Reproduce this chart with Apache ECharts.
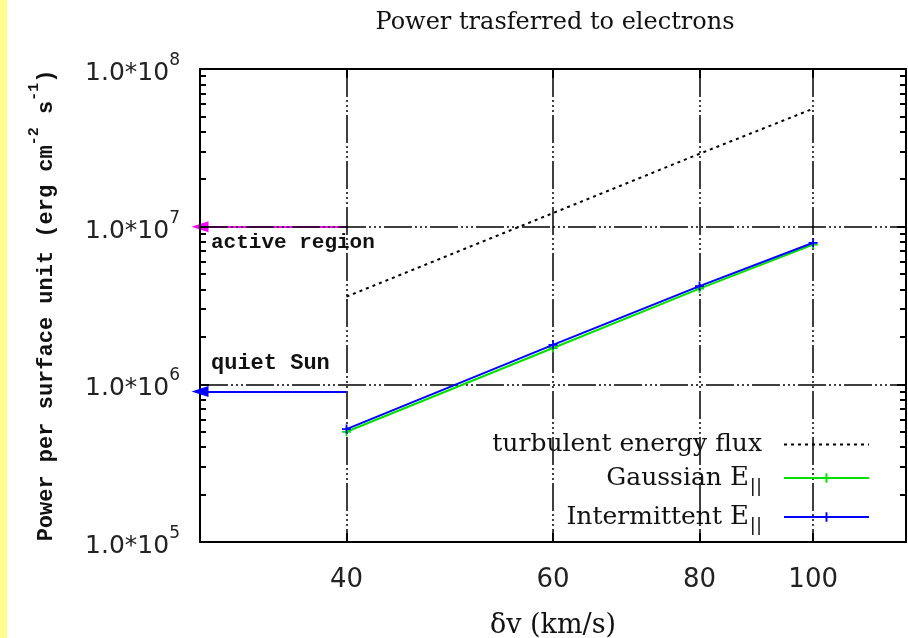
<!DOCTYPE html>
<html><head><meta charset="utf-8">
<script src="https://cdn.jsdelivr.net/npm/echarts@6/dist/echarts.min.js"></script>
<style>html,body{margin:0;padding:0;background:#fff}#c{width:908px;height:638px}</style>
</head><body><div id="c"></div>
<script>
// ---- data ----
const speeds = [40, 60, 80, 100];                       // δv (km/s)
const turbulentFlux = [3.6e6, 1.22e7, 2.9e7, 5.6e7];    // turbulent energy flux
const gaussianE = [5.0e5, 1.70e6, 4.05e6, 7.7e6];       // Gaussian E||
const intermittentE = [5.2e5, 1.78e6, 4.2e6, 7.9e6];    // Intermittent E||
const xTickValues = [40, 60, 80, 100];
const yTickValues = [1e5, 1e6, 1e7, 1e8];
const yMinorTickValues = [2e5,3e5,4e5,5e5,6e5,7e5,8e5,9e5,
                          2e6,3e6,4e6,5e6,6e6,7e6,8e6,9e6,
                          2e7,3e7,4e7,5e7,6e7,7e7,8e7,9e7];
const refSpanX = [30, 40];          // extent of the reference level arrows
const activeRegionLevel = 1e7;
const quietSunLevel = 9e5;
const xRange = [30, 120];
const yRange = [1e5, 1e8];

const serif = 'DejaVu Serif';
const sans = 'DejaVu Sans';
const mono = 'Liberation Mono';
const gridDash = [28, 3, 2, 3, 2, 3, 2, 3];
const plusPath = 'path://M4,0h2v4h4v2h-4v4h-2v-4h-4v-2h4z';

const zip = (xs, ys) => xs.map((x, i) => [x, ys[i]]);

const chart = echarts.init(document.getElementById('c'), null, {renderer: 'canvas'});

function xAxisBase(pos, extra) {
  return Object.assign({
    type: 'log', logBase: 10, min: xRange[0], max: xRange[1], position: pos,
    axisLine: {show: true, lineStyle: {color: '#000', width: 2}},
    axisTick: {show: true, inside: true, length: 9, customValues: xTickValues, lineStyle: {color: '#000', width: 2}},
    axisLabel: {show: false},
    splitLine: {show: false},
    minorTick: {show: false}
  }, extra || {});
}
function yAxisBase(pos, extra) {
  return Object.assign({
    type: 'log', logBase: 10, min: yRange[0], max: yRange[1], position: pos,
    axisLine: {show: false, lineStyle: {color: '#000', width: 2}},
    axisTick: {show: true, inside: true, length: 9, customValues: yTickValues, lineStyle: {color: '#000', width: 2}},
    axisLabel: {show: false},
    splitLine: {show: false}
  }, extra || {});
}

const option = {
  backgroundColor: '#fff',
  animation: false,
  title: {
    text: 'Power trasferred to electrons',
    left: 550, top: 6, textAlign: 'center',
    textStyle: {fontFamily: serif, fontSize: 24, fontWeight: 'normal', color: '#111'}
  },
  graphic: [{type: 'rect', left: 0, top: 0, shape: {width: 7, height: 638}, style: {fill: '#ffff8c'}}],
  grid: {left: 200, right: 2, top: 69, bottom: 96, containLabel: false, outerBoundsMode: 'none'},
  xAxis: [
    xAxisBase('bottom', {
      axisLabel: {show: true, customValues: xTickValues, margin: 25, color: '#222',
        fontFamily: sans, fontSize: 26, formatter: v => String(Math.round(v))},
      splitLine: {show: true, lineStyle: {color: '#000', width: 1.5, type: gridDash}},
      name: 'δv (km/s)', nameLocation: 'middle', nameGap: 70,
      nameTextStyle: {fontFamily: serif, fontSize: 27, color: '#111'}
    }),
    xAxisBase('top')
  ],
  yAxis: [
    yAxisBase('left', {
      axisLine: {show: true, lineStyle: {color: '#000', width: 2}},
      axisLabel: {show: true, customValues: yTickValues, margin: 20, color: '#222',
        formatter: v => '{b|1.0*10}{s|' + Math.round(Math.log10(v)) + '}',
        rich: {
          b: {fontFamily: sans, fontSize: 25, lineHeight: 34, verticalAlign: 'bottom', color: '#222'},
          s: {fontFamily: sans, fontSize: 17, lineHeight: 17, verticalAlign: 'top', color: '#222'}
        }},
      splitLine: {show: true, lineStyle: {color: '#000', width: 1.5, type: gridDash}},
      name: '{n|Power per surface unit (erg cm}{s|-2}{n| s}{s|-1}{n|)}',
      nameLocation: 'middle', nameGap: 143, nameRotate: 90,
      nameTextStyle: {rich: {
        n: {fontFamily: mono, fontSize: 22, fontWeight: 'bold', lineHeight: 30, verticalAlign: 'bottom', color: '#111'},
        s: {fontFamily: mono, fontSize: 15, fontWeight: 'bold', lineHeight: 15, verticalAlign: 'top', color: '#111'}
      }}
    }),
    yAxisBase('left', {axisTick: {show: true, inside: true, length: 6, customValues: yMinorTickValues, lineStyle: {color: '#000', width: 2}}}),
    yAxisBase('right', {axisLine: {show: true, lineStyle: {color: '#000', width: 2}}}),
    yAxisBase('right', {axisTick: {show: true, inside: true, length: 6, customValues: yMinorTickValues, lineStyle: {color: '#000', width: 2}}})
  ],
  legend: {
    orient: 'vertical', right: 33, top: 427, align: 'right',
    itemWidth: 85, itemHeight: 12, itemGap: 8,
    data: [{name: 'turbulent energy flux', itemStyle: {opacity: 0}}, 'Gaussian E||', 'Intermittent E||'],
    formatter: name => name.endsWith('E||') ? '{t|' + name.slice(0, -3) + '}{e|E}{u|||}' : '{t|' + name + '}',
    textStyle: {
      padding: [0, 17, 0, 0],
      rich: {
        t: {fontFamily: serif, fontSize: 25, lineHeight: 36, color: '#111'},
        e: {fontFamily: serif, fontSize: 26, lineHeight: 36, color: '#111'},
        u: {fontFamily: sans, fontSize: 18, lineHeight: 18, verticalAlign: 'bottom', color: '#111', padding: [0, 0, 0, 1]}
      }
    }
  },
  series: [
    {
      name: 'turbulent energy flux', type: 'line', data: zip(speeds, turbulentFlux),
      symbol: 'none', lineStyle: {color: '#000', width: 2, type: [3, 4]}, itemStyle: {color: '#000'}, z: 3
    },
    {
      name: 'Gaussian E||', type: 'line', data: zip(speeds, gaussianE),
      symbol: plusPath, symbolSize: 9, lineStyle: {color: '#00e000', width: 2}, itemStyle: {color: '#00e000'}, z: 3
    },
    {
      name: 'Intermittent E||', type: 'line', data: zip(speeds, intermittentE),
      symbol: plusPath, symbolSize: 9, lineStyle: {color: '#0000ff', width: 2}, itemStyle: {color: '#0000ff'}, z: 4
    },
    {
      name: 'active region', type: 'line', data: [], silent: true,
      markLine: {
        silent: true, z: -1, symbol: ['triangle', 'none'], symbolSize: [11, 17], symbolOffset: [0, 8],
        lineStyle: {color: '#ff00ff', width: 2, type: 'solid'},
        label: {show: true, formatter: 'active region', position: 'insideStartBottom', distance: [11, 6],
          fontFamily: mono, fontSize: 21, fontWeight: 'bold', color: '#111'},
        data: [[{coord: [refSpanX[0], activeRegionLevel]}, {coord: [refSpanX[1], activeRegionLevel]}]]
      }
    },
    {
      name: 'quiet Sun', type: 'line', data: [], silent: true,
      markLine: {
        silent: true, symbol: ['triangle', 'none'], symbolSize: [11, 17], symbolOffset: [0, 8],
        lineStyle: {color: '#0000ff', width: 2, type: 'solid'},
        label: {show: true, formatter: 'quiet Sun', position: 'insideStartTop', distance: [11, 17],
          fontFamily: mono, fontSize: 22, fontWeight: 'bold', color: '#111'},
        data: [[{coord: [refSpanX[0], quietSunLevel]}, {coord: [refSpanX[1], quietSunLevel]}]]
      }
    }
  ]
};
chart.setOption(option);
</script>
</body></html>
